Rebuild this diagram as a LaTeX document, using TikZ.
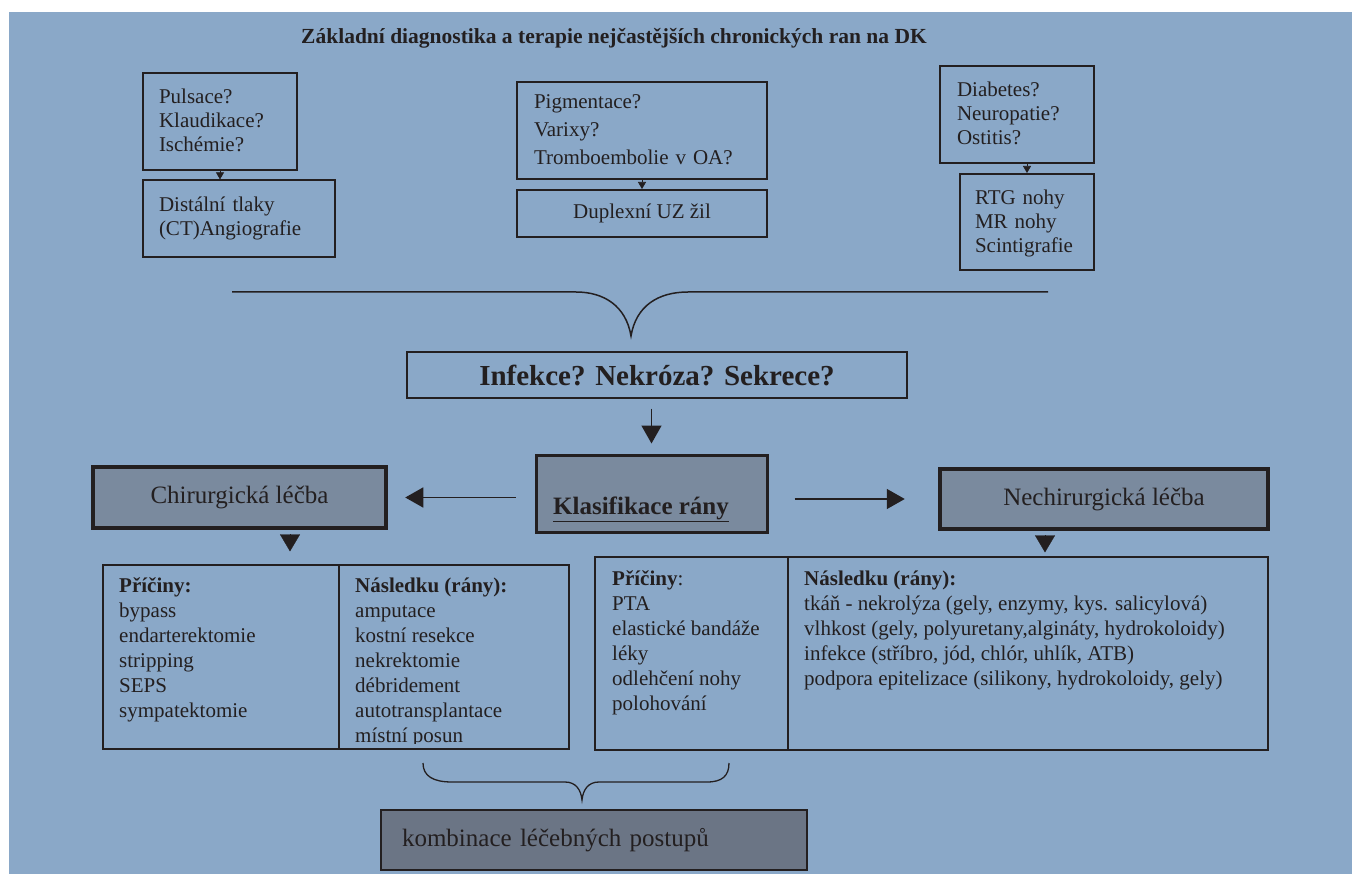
\documentclass[tikz,border=0pt]{standalone}
\usepackage{fontspec}
\setmainfont{Liberation Serif}
\usetikzlibrary{arrows.meta,calc}
\definecolor{bg}{RGB}{138,168,200}
\definecolor{boxgray}{RGB}{122,138,158}
\definecolor{combgray}{RGB}{107,117,133}
\definecolor{ink}{RGB}{35,31,32}
\newcommand\fsz[2]{\fontsize{#1}{#2}\selectfont}
\newcommand\fstrut{\rule{0pt}{19.5pt}}
\begin{document}
\begin{tikzpicture}[x=1pt,y=-1pt,
  every node/.style={text=ink},
  qbox/.style={draw=ink, line width=1.2pt, rectangle, inner ysep=0pt, align=left, font=\fsz{21}{24}},
  medbox/.style={qbox, line width=2pt},
  heavybox/.style={draw=ink, line width=4.5pt, rectangle, fill=boxgray, inner sep=0pt, font=\fsz{25}{28}},
  tabbox/.style={draw=ink, line width=1.2pt, rectangle, inner sep=0pt},
  coltext/.style={anchor=north west, inner sep=0pt, align=left, font=\fsz{21}{25}},
  smallarr/.style={draw=ink, line width=0.6pt, -{Triangle[width=8pt,length=7pt]}},
  bigarr/.style={draw=ink, line width=1.5pt, -{Triangle[width=20pt,length=18pt]}},
  tri/.style={draw=ink, line width=0.3pt, -{Triangle[width=20pt,length=17pt]}},
  bracepath/.style={draw=ink, line width=1.5pt}
]
\useasboundingbox (0,0) rectangle (1352,874);
\fill[white] (0,0) rectangle (1352,874);
\fill[bg] (9,12) rectangle (1352,874);

% title
\node (title) at (614,38) {\bfseries\fsz{21.5}{24}Základní diagnostika a terapie nejčastějších chronických ran na DK};

% top boxes
\node[qbox, minimum width=154pt, minimum height=97pt, inner xsep=16pt, text width=122pt] (a1) at (220,121.5)
  {\fstrut Pulsace?\\\strut Klaudikace?\\\strut Ischémie?};
\node[qbox, minimum width=192pt, minimum height=77pt, inner xsep=16pt, text width=160pt] (a2) at (239,218.5)
  {\strut Distální tlaky\\\strut (CT)Angiografie};
\node[qbox, minimum width=250pt, minimum height=97pt, inner xsep=17pt, text width=216pt, font=\fsz{21}{28}] (b1) at (642,130.5)
  {\strut Pigmentace?\\\strut Varixy?\\\strut Tromboembolie v OA?};
\node[medbox, minimum width=250pt, minimum height=47pt, align=center] (b2) at (642,213.5)
  {Duplexní UZ žil};
\node[qbox, minimum width=154pt, minimum height=97pt, inner xsep=17pt, text width=120pt] (c1) at (1017,114.5)
  {\fstrut Diabetes?\\\strut Neuropatie?\\\strut Ostitis?};
\node[medbox, minimum width=134pt, minimum height=96pt, inner xsep=15pt, text width=104pt] (c2) at (1027,222)
  {\fstrut RTG nohy\\\strut MR nohy\\\strut Scintigrafie};

\draw[smallarr] (a1.south) -- (a1.south |- a2.north);
\draw[smallarr] (b1.south) -- (b2.north);
\draw[smallarr] (c2.north |- c1.south) -- (c2.north);

% top brace
\path[bracepath] (232,292) -- (576,292) .. controls (604,292) and (626,306) .. (631,336)
  .. controls (636,306) and (658,292) .. (688,292) -- (1048,292);

% infekce
\node[draw=ink, line width=1.5pt, minimum width=500pt, minimum height=46pt, inner sep=0pt] (inf) at (657,375)
  {\bfseries\fsz{29}{32}Infekce? Nekróza? Sekrece?};

% klasifikace
\node[draw=ink, line width=3pt, fill=boxgray, minimum width=231pt, minimum height=77pt, inner sep=0pt] (klas) at (651.5,493.5) {};
\node[inner sep=0pt] (klast) at (641,509) {\bfseries\fsz{25}{28}\underline{Klasifikace rány}};

\draw[bigarr, shorten <=10pt, shorten >=10pt] (inf.south -| klas.north) -- (klas.north);

% chirurgicka / nechirurgicka
\node[heavybox, minimum width=293pt, minimum height=61pt] (chir) at (239.5,497.5) {Chirurgická léčba};
\node[heavybox, minimum width=328pt, minimum height=60pt] (nech) at (1104,499) {Nechirurgická léčba};

\draw[bigarr, shorten <=19pt, shorten >=17pt] (klas.west |- chir.east) -- (chir.east);
\draw[bigarr, shorten <=26pt, shorten >=33pt] (klas.east |- nech.west) -- (nech.west);

% tables
\node[tabbox, minimum width=466pt, minimum height=184pt] (tabL) at (336,657) {};
\node[tabbox, minimum width=673pt, minimum height=193pt] (tabR) at (931.5,653.5) {};
\coordinate (dl) at (339,0);
\coordinate (dr) at (788,0);
\draw[ink, line width=1.2pt] (tabL.north -| dl) -- (tabL.south -| dl);
\draw[ink, line width=1.2pt] (tabR.north -| dr) -- (tabR.south -| dr);

\draw[tri, shorten <=6.5pt, shorten >=13pt] ($(chir.south)+(50.5,0)$) -- ($(chir.south |- tabL.north)+(50.5,0)$);
\draw[tri, shorten <=5.5pt, shorten >=4pt] ($(nech.south)+(-59,0)$) -- ($(nech.south |- tabR.north)+(-59,0)$);

\node[coltext] (l1) at (119,574.5)
  {\strut\textbf{Příčiny:}\\\strut bypass\\\strut endarterektomie\\\strut stripping\\\strut SEPS\\\strut sympatektomie};
\begin{scope}
\clip (340,560) rectangle (568,743);
\node[coltext] (l2) at (355,574.5)
  {\strut\textbf{Následku (rány):}\\\strut amputace\\\strut kostní resekce\\\strut nekrektomie\\\strut débridement\\\strut autotransplantace\\\strut místní posun};
\end{scope}
\node[coltext] (r1) at (612,567.5)
  {\strut\textbf{Příčiny}:\\\strut PTA\\\strut elastické bandáže\\\strut léky\\\strut odlehčení nohy\\\strut polohování};
\node[coltext] (r2) at (804,567.5)
  {\strut\textbf{Následku (rány):}\\\strut tkáň - nekrolýza (gely, enzymy, kys. salicylová)\\\strut vlhkost (gely, polyuretany,algináty, hydrokoloidy)\\\strut infekce (stříbro, jód, chlór, uhlík, ATB)\\\strut podpora epitelizace (silikony, hydrokoloidy, gely)};

% bottom brace
\path[bracepath, line width=1.3pt] (423,763) .. controls (423,776) and (433,782) .. (452,782) -- (565,782)
  .. controls (576,782) and (581,790) .. (582,800) .. controls (583,790) and (588,782) .. (599,782)
  -- (707,782) .. controls (722,782) and (729,776) .. (729,763);

% kombinace
\node[draw=ink, line width=2pt, fill=combgray, minimum width=426pt, minimum height=60pt, inner xsep=21pt, inner ysep=0pt,
  text width=384pt, align=left, font=\fsz{25}{28}] (komb) at (594,840) {kombinace léčebných postupů};
\end{tikzpicture}
\end{document}
